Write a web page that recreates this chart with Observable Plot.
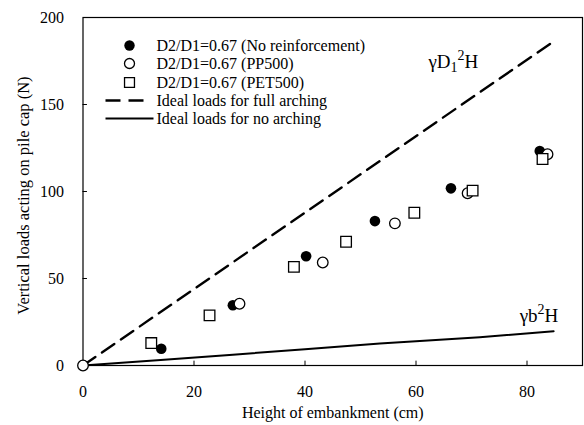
<!DOCTYPE html>
<html><head><meta charset="utf-8">
<script src="https://cdn.jsdelivr.net/npm/d3@7"></script>
<script src="https://cdn.jsdelivr.net/npm/@observablehq/plot@0.6"></script>
<style>
body{margin:0;background:#fff}
svg{display:block}
#chart svg, #chart svg text {font-family: "Liberation Serif", "Times New Roman", serif !important;}
</style>
</head><body><div id="chart"></div>
<script>
// ---- data ----
const xTicks = [0, 20, 40, 60, 80];
const yTicks = [0, 50, 100, 150, 200];
const xLabel = "Height of embankment (cm)";
const yLabel = "Vertical loads acting on pile cap (N)";

const noReinfH    = [14.1, 27.0, 40.2, 52.6, 66.3, 82.3];
const noReinfLoad = [9.6, 34.6, 62.8, 83.0, 101.8, 123.3];
const pp500H      = [0, 28.2, 43.2, 56.2, 69.3, 83.7];
const pp500Load   = [0, 35.5, 59.2, 81.7, 99.0, 121.4];
const pet500H     = [12.3, 22.8, 38.0, 47.4, 59.7, 70.2, 82.8];
const pet500Load  = [12.9, 28.8, 56.7, 71.1, 87.8, 100.5, 118.7];
const fullArchH    = [0, 84.4];
const fullArchLoad = [0, 185.4];
const noArchH      = [0, 14, 27, 40, 53.5, 71.5, 84.8];
const noArchLoad   = [0, 3.2, 6.2, 9.4, 12.7, 16.3, 19.7];

const legendLabels = [
  "D2/D1=0.67 (No reinforcement)",
  "D2/D1=0.67 (PP500)",
  "D2/D1=0.67 (PET500)",
  "Ideal loads for full arching",
  "Ideal loads for no arching"
];
const fullArchLabel = "γD1²H";
const noArchLabel = "γb²H";

// ---- build tables ----
const zip = (xs, ys) => xs.map((x, i) => ({x, y: ys[i]}));
const noReinf = zip(noReinfH, noReinfLoad);
const pp500 = zip(pp500H, pp500Load);
const pet500 = zip(pet500H, pet500Load);
const fullArch = zip(fullArchH, fullArchLoad);
const noArch = zip(noArchH, noArchLoad);

const FONT = "'Liberation Serif', 'Times New Roman', serif";

// legend symbols
const dashSym = {draw(ctx) { ctx.moveTo(-19, 0); ctx.lineTo(19, 0); }};
const solidSym = {draw(ctx) { ctx.moveTo(-24, 0); ctx.lineTo(24, 0); }};
const legendRowDy = [28, 46, 65, 83, 101];
const legendStyles = [
  {symbol: "circle", fill: "black", stroke: "none", r: 5.2, dx: 46.5},
  {symbol: "circle", fill: "white", stroke: "black", r: 5.0, dx: 46.5, strokeWidth: 1.3},
  {symbol: "square", fill: "white", stroke: "black", r: 5.6, dx: 46.5, strokeWidth: 1.3},
  {symbol: dashSym, fill: "none", stroke: "black", r: 5, dx: 41.5, strokeWidth: 2.4, strokeDasharray: "15,8"},
  {symbol: solidSym, fill: "none", stroke: "black", r: 5, dx: 46.5, strokeWidth: 2}
];
const legendMarks = legendLabels.flatMap((lab, i) => {
  const s = legendStyles[i];
  return [
    Plot.dot([lab], {frameAnchor: "top-left", dx: s.dx, dy: legendRowDy[i], symbol: s.symbol,
      fill: s.fill, stroke: s.stroke, r: s.r, strokeWidth: s.strokeWidth || 1, strokeDasharray: s.strokeDasharray}),
    Plot.text([lab], {frameAnchor: "top-left", dx: 73.5, dy: legendRowDy[i], text: d => d,
      textAnchor: "start", lineAnchor: "middle", fontSize: 16, fill: "black"})
  ];
});

const plot = Plot.plot({
  width: 584,
  height: 425,
  marginLeft: 82.5,
  marginRight: 2,
  marginTop: 17,
  marginBottom: 60,
  style: {fontFamily: FONT, fontSize: "16px", color: "black", background: "white"},
  x: {domain: [0, 90]},
  y: {domain: [0, 200]},
  marks: [
    Plot.frame({stroke: "black", strokeWidth: 1.2}),
    Plot.ruleX(xTicks.slice(1), {x: d => d, y1: 0, y2: 2.5, stroke: "black"}),
    Plot.ruleY(yTicks.slice(1, -1), {y: d => d, x1: 0, x2: 0.8, stroke: "black"}),
    Plot.axisX({ticks: xTicks, tickSize: 0, tickPadding: 20, label: null, fontSize: 16}),
    Plot.axisY({ticks: yTicks, tickSize: 0, tickPadding: 19, label: null, fontSize: 16}),
    Plot.text([xLabel], {frameAnchor: "bottom", lineAnchor: "middle", textAnchor: "middle", dy: 47, text: d => d, fontSize: 16}),
    Plot.text([yLabel], {frameAnchor: "left", textAnchor: "middle", lineAnchor: "middle", dx: -59, dy: 4, rotate: -90, text: d => d, fontSize: 16.5}),
    Plot.line(fullArch, {x: "x", y: "y", stroke: "black", strokeWidth: 2.4, strokeDasharray: "15,8"}),
    Plot.line(noArch, {x: "x", y: "y", stroke: "black", strokeWidth: 2}),
    Plot.dot(noReinf, {x: "x", y: "y", r: 5.3, fill: "black", stroke: "none"}),
    Plot.dot(pp500, {x: "x", y: "y", r: 5.3, fill: "white", stroke: "black", strokeWidth: 1.3}),
    Plot.dot(pet500, {x: "x", y: "y", r: 6.0, symbol: "square", fill: "white", stroke: "black", strokeWidth: 1.3}),
    Plot.text(fullArch.slice(-1), {x: "x", y: "y", text: () => fullArchLabel, textAnchor: "start", dx: -123, dy: 19, fontSize: 19}),
    Plot.text(noArch.slice(-1), {x: "x", y: "y", text: () => noArchLabel, textAnchor: "start", dx: -34, dy: -15, fontSize: 19}),
    ...legendMarks
  ]
});

// rich-text (subscript / superscript) for the annotations
d3.select(plot).selectAll("text").each(function() {
  const t = this.textContent;
  if (t === fullArchLabel || t === noArchLabel) {
    const sel = d3.select(this);
    sel.text(null);
    if (t === fullArchLabel) {
      sel.append("tspan").text("γD");
      sel.append("tspan").attr("dy", 4).attr("font-size", 14).text("1");
      sel.append("tspan").attr("dy", -12).attr("font-size", 14).text("2");
      sel.append("tspan").attr("dy", 8).text("H");
    } else {
      sel.append("tspan").text("γb");
      sel.append("tspan").attr("dy", -8).attr("font-size", 14).text("2");
      sel.append("tspan").attr("dy", 8).text("H");
    }
  }
});

document.getElementById("chart").appendChild(plot);
</script>
</body></html>
